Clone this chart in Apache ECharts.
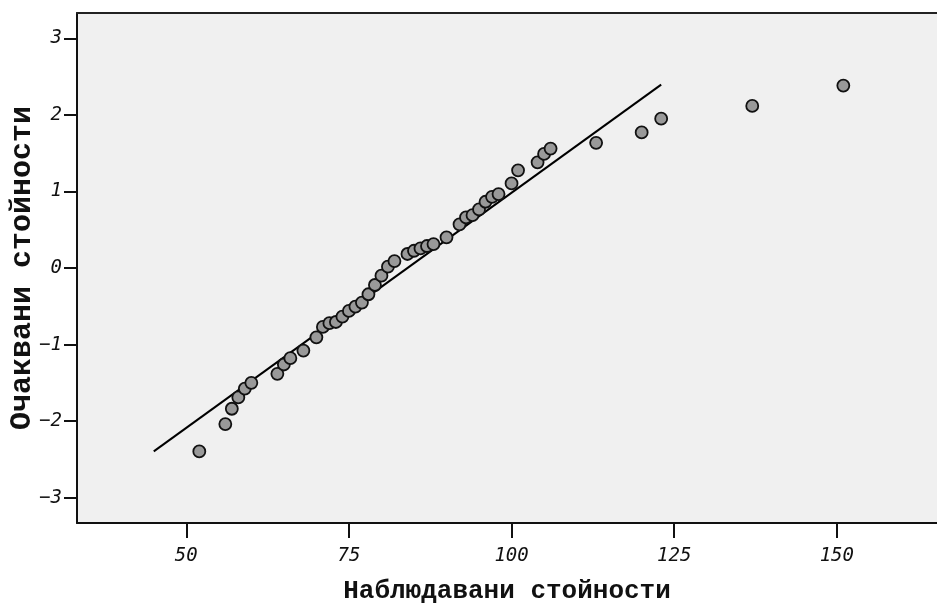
<!DOCTYPE html>
<html>
<head>
<meta charset="utf-8">
<script src="https://cdn.jsdelivr.net/npm/echarts@6/dist/echarts.min.js"></script>
<style>
  html, body { margin: 0; padding: 0; background: #ffffff; }
  #chart { width: 937px; height: 604px; }
</style>
</head>
<body>
<div id="chart"></div>
<script>
// Normal Q-Q plot: observed values against expected normal quantiles
const observed = [52, 56, 57, 58, 59, 60, 64, 65, 66, 68, 70, 71, 72, 73, 74, 75, 76, 77, 78, 79,
  80, 81, 82, 84, 85, 86, 87, 88, 90, 92, 93, 94, 95, 96, 97, 98, 100, 101, 104, 105,
  106, 113, 120, 123, 137, 151];
const expected = [-2.395, -2.038, -1.838, -1.69, -1.574, -1.499, -1.382, -1.26, -1.177, -1.078,
  -0.905, -0.77, -0.72, -0.705, -0.635, -0.56, -0.504, -0.452, -0.343, -0.222,
  -0.10, 0.017, 0.09, 0.183, 0.225, 0.256, 0.287, 0.313, 0.40, 0.57,
  0.661, 0.69, 0.765, 0.865, 0.93, 0.965, 1.104, 1.276, 1.38, 1.49,
  1.56, 1.634, 1.77, 1.95, 2.116, 2.382];

// Reference line of the fitted normal distribution
const refLineX = [45, 123];
const refLineY = [-2.395, 2.395];

const xTicks = [50, 75, 100, 125, 150];
const yTicks = [-3, -2, -1, 0, 1, 2, 3];

const xTitle = 'Наблюдавани стойности';
const yTitle = 'Очаквани стойности';

const points = observed.map((v, i) => [v, expected[i]]);
const refLine = refLineX.map((v, i) => [v, refLineY[i]]);

const X_MIN = 33.2, X_MAX = 165.4;
const Y_MIN = -3.33, Y_MAX = 3.33;

const tickFont = {
  fontFamily: 'DejaVu Sans Mono',
  fontStyle: 'italic',
  fontSize: 19,
  color: '#111111'
};
const titleFont = {
  fontFamily: 'Liberation Mono',
  fontWeight: 'bold',
  color: '#111111'
};
const fmtMinus = v => String(v).replace('-', '\u2212');

const chart = echarts.init(document.getElementById('chart'), null, { renderer: 'canvas' });
chart.setOption({
  animation: false,
  backgroundColor: '#ffffff',
  grid: {
    left: 77, right: 0, top: 13, bottom: 81,
    containLabel: false,
    outerBoundsMode: 'none',
    show: true,
    backgroundColor: '#f0f0f0',
    borderWidth: 0
  },
  xAxis: [{
    type: 'value',
    position: 'bottom',
    min: X_MIN, max: X_MAX,
    splitLine: { show: false },
    axisLine: { show: true, onZero: false, lineStyle: { color: '#111111', width: 2 } },
    axisTick: { show: true, customValues: xTicks, length: 15, inside: false,
      lineStyle: { color: '#111111', width: 2 } },
    axisLabel: { show: true, customValues: xTicks, margin: 24, ...tickFont },
    name: xTitle,
    nameLocation: 'middle',
    nameGap: 55,
    nameMoveOverlap: false,
    nameTextStyle: { ...titleFont, fontSize: 26 }
  }, {
    type: 'value',
    position: 'top',
    min: X_MIN, max: X_MAX,
    splitLine: { show: false },
    axisLine: { show: true, onZero: false, lineStyle: { color: '#222222', width: 2 } },
    axisTick: { show: false },
    axisLabel: { show: false }
  }],
  yAxis: {
    type: 'value',
    min: Y_MIN, max: Y_MAX,
    splitLine: { show: false },
    axisLine: { show: true, onZero: false, lineStyle: { color: '#111111', width: 2 } },
    axisTick: { show: true, customValues: yTicks, length: 13, inside: false,
      lineStyle: { color: '#111111', width: 2 } },
    axisLabel: { show: true, customValues: yTicks, margin: 15, formatter: fmtMinus, ...tickFont },
    name: yTitle,
    nameLocation: 'middle',
    nameGap: 40,
    nameMoveOverlap: false,
    nameRotate: 90,
    nameTextStyle: { ...titleFont, fontSize: 30 }
  },
  series: [{
    type: 'line',
    data: refLine,
    xAxisIndex: 0,
    symbol: 'none',
    silent: true,
    lineStyle: { color: '#000000', width: 2 },
    z: 2
  }, {
    type: 'scatter',
    data: points,
    xAxisIndex: 0,
    symbol: 'circle',
    symbolSize: 12,
    itemStyle: { color: '#999999', borderColor: '#111111', borderWidth: 1.8, opacity: 1 },
    z: 3
  }]
});
</script>
</body>
</html>
